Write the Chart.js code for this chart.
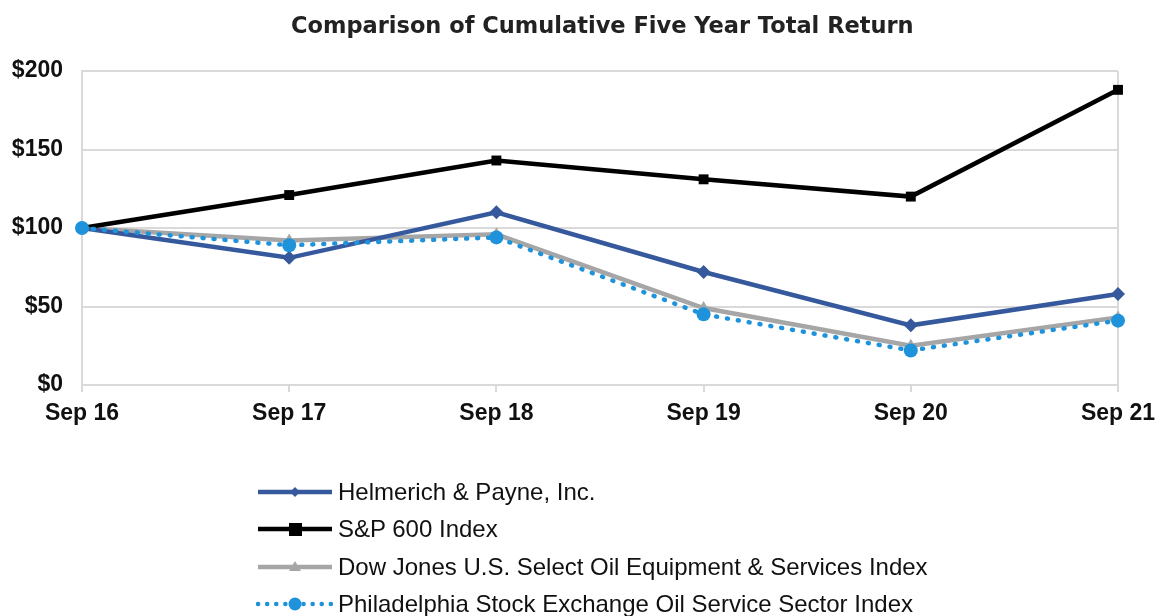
<!DOCTYPE html>
<html>
<head>
<meta charset="utf-8">
<script src="https://cdn.jsdelivr.net/npm/chart.js@4"></script>
<style>
  html, body { margin: 0; padding: 0; background: #fff; }
  #wrap { position: relative; width: 1161px; height: 616px; }
  #title { position: absolute; left: 291px; width: 600px; top: 10px; text-align: center; white-space: nowrap;
           font-family: "DejaVu Sans", Verdana, sans-serif; font-weight: bold; font-size: 22.5px; line-height: 30px; color: #222; }
  #legend { position: absolute; left: 256px; top: 473px; font-family: "Liberation Sans", Arial, sans-serif; font-size: 24px; color: #111; }
  .item { display: flex; align-items: center; height: 37.5px; white-space: nowrap; }
  .item svg { margin-right: 4px; }
</style>
</head>
<body>
<div id="wrap">
  <canvas id="tsrChart" width="1161" height="616"></canvas>
  <div id="title">Comparison of Cumulative Five Year Total Return</div>
  <div id="legend"></div>
</div>
<script>
const anos = ['Sep 16', 'Sep 17', 'Sep 18', 'Sep 19', 'Sep 20', 'Sep 21'];
const helmerich = [100, 81, 110, 72, 38, 58];
const sp600 = [100, 121, 143, 131, 120, 188];
const dowJones = [100, 92, 96, 49, 25, 43];
const philadelphia = [100, 89, 94, 45, 22, 41];
const yTicks = [0, 50, 100, 150, 200];

const series = [
  { label: 'Helmerich & Payne, Inc.', data: helmerich, color: '#35599c', marker: 'rectRot', radius: 7, dash: [], order: 1 },
  { label: 'S&P 600 Index', data: sp600, color: '#000000', marker: 'rect', radius: 7, dash: [], order: 2 },
  { label: 'Dow Jones U.S. Select Oil Equipment & Services Index', data: dowJones, color: '#a6a6a6', marker: 'triangle', radius: 7, dash: [], order: 3 },
  { label: 'Philadelphia Stock Exchange Oil Service Sector Index', data: philadelphia, color: '#1e93dc', marker: 'circle', radius: 7, dash: [1, 10], order: 0 }
];

const datasets = series.map(s => ({
  label: s.label,
  data: s.data,
  borderColor: s.color,
  backgroundColor: s.color,
  borderWidth: 4.5,
  borderDash: s.dash,
  borderCapStyle: s.dash.length ? 'round' : 'butt',
  pointStyle: s.marker,
  pointRadius: s.radius,
  pointBorderWidth: 0,
  tension: 0,
  order: s.order
}));

const tickFont = { family: '"Liberation Sans", Arial, sans-serif', size: 23, weight: 'bold' };

const ctx = document.getElementById('tsrChart').getContext('2d');
new Chart(ctx, {
  type: 'line',
  data: { labels: anos, datasets: datasets },
  options: {
    responsive: false,
    animation: false,
    layout: { padding: { left: 0, right: 43, top: 71, bottom: 181 } },
    plugins: {
      legend: { display: false },
      tooltip: { enabled: false },
      title: { display: false }
    },
    scales: {
      x: {
        offset: false,
        afterFit: s => { s.height = 50; s.paddingLeft = 0; s.paddingRight = 0; },
        grid: {
          color: c => (c.index === 0 || c.index === anos.length - 1) ? '#d9d9d9' : 'rgba(0,0,0,0)',
          tickColor: '#d9d9d9',
          tickLength: 7,
          lineWidth: 2
        },
        border: { display: true, color: '#d9d9d9', width: 2 },
        ticks: { color: '#111', font: tickFont, padding: 8, maxRotation: 0, autoSkip: false }
      },
      y: {
        min: 0,
        max: 200,
        afterFit: s => { s.width = 82; },
        afterBuildTicks: s => { s.ticks = yTicks.map(v => ({ value: v })); },
        grid: { color: '#d9d9d9', lineWidth: 2, tickLength: 0 },
        border: { display: true, color: '#d9d9d9', width: 2 },
        ticks: { color: '#111', font: tickFont, padding: 19, callback: v => '$' + v }
      }
    }
  }
});

// legenda em HTML, uma linha por série
const legend = document.getElementById('legend');
series.forEach(s => {
  const row = document.createElement('div');
  row.className = 'item';
  let mark = '';
  if (s.marker === 'rectRot') mark = '<polygon points="39,6 44,11 39,16 34,11" fill="' + s.color + '"/>';
  if (s.marker === 'rect') mark = '<rect x="33" y="5" width="13" height="13" fill="' + s.color + '"/>';
  if (s.marker === 'triangle') mark = '<polygon points="39,5 45,15 33,15" fill="' + s.color + '"/>';
  if (s.marker === 'circle') mark = '<circle cx="39" cy="11" r="6.5" fill="' + s.color + '"/>';
  const dash = s.dash.length ? ' stroke-dasharray="0.1 9" stroke-linecap="round"' : '';
  row.innerHTML = '<svg width="78" height="22"><line x1="2" y1="11" x2="76" y2="11" stroke="' + s.color +
    '" stroke-width="4.5"' + dash + '/>' + mark + '</svg><span>' + s.label.replace(/&/g, '&amp;') + '</span>';
  legend.appendChild(row);
});
</script>
</body>
</html>
